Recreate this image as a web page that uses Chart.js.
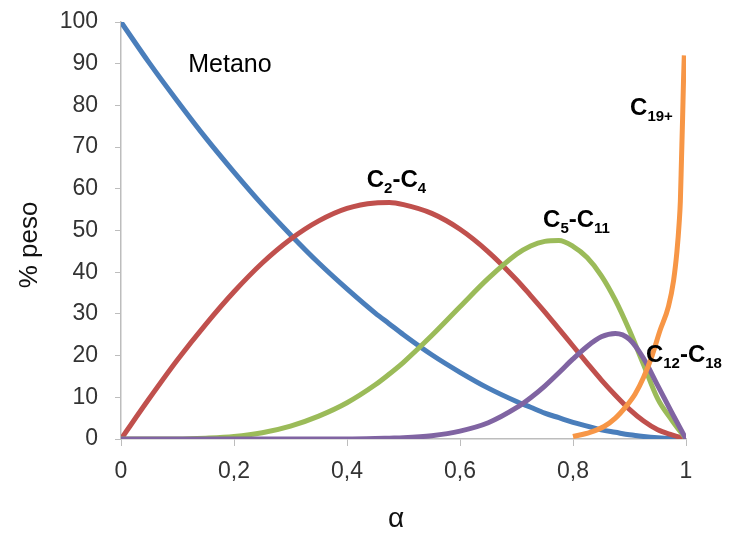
<!DOCTYPE html>
<html>
<head>
<meta charset="utf-8">
<title>% peso vs alfa</title>
<script src="https://cdn.jsdelivr.net/npm/chart.js@4.4.1/dist/chart.umd.min.js"></script>
<style>
    html, body { margin: 0; padding: 0; background: #fff; }
    #chart { display: block; }
</style>
</head>
<body>
<canvas id="chart" width="731" height="534"></canvas>
<script>
// Values
const alpha = [0, 0.05, 0.1, 0.15, 0.2, 0.25, 0.3, 0.35, 0.4, 0.45, 0.475, 0.5, 0.55, 0.6, 0.65, 0.7, 0.725, 0.75, 0.775, 0.8, 0.825, 0.85, 0.875, 0.9, 0.925, 0.95, 0.975, 1];
const metano = [100, 90.2, 81, 72.2, 64, 56.2, 49, 42.2, 36, 30.2, 27.6, 25, 20.2, 16, 12.2, 9, 7.6, 6.2, 5.1, 4, 3.1, 2.2, 1.6, 1, 0.6, 0.3, 0.1, 0];
const c2c4 = [0, 9.7, 19, 27.5, 35.3, 42.2, 47.9, 52.3, 55.3, 56.6, 56.7, 56.2, 54.1, 50.3, 44.9, 38.2, 34.4, 30.5, 26.4, 22.3, 18.2, 14.2, 10.5, 7.1, 4.3, 2.2, 1.0, 0];
const c5c11 = [0, 0, 0, 0.2, 0.6, 1.5, 3.1, 5.5, 8.7, 13, 15.6, 18.4, 24.8, 31.7, 38.5, 44.3, 46.3, 47.4, 47.6, 46.2, 43.5, 39.2, 33.3, 26, 17.8, 9.6, 4.5, 0];
const c12c18 = [0, 0, 0, 0, 0, 0, 0, 0, 0, 0.1, 0.2, 0.3, 0.8, 1.9, 3.9, 7.5, 9.9, 12.7, 15.9, 19.2, 22.2, 24.5, 25.3, 23.9, 19.3, 12.8, 6.3, 0];
const c19Alpha = [0.8, 0.83, 0.855, 0.875, 0.895, 0.91, 0.925, 0.94, 0.954, 0.969, 0.978, 0.984, 0.988, 0.99, 0.992, 0.994, 0.9956, 0.997];
const c19plus = [0.6, 1.6, 3, 5, 8, 10.8, 14.8, 20, 26, 31.8, 38, 45, 52, 57, 67, 77, 86, 92];

const xTicks = [0, 0.2, 0.4, 0.6, 0.8, 1];
const yTicks = [0, 10, 20, 30, 40, 50, 60, 70, 80, 90, 100];

((document) => {
    'use strict';

    const tickFont = { family: '"Liberation Sans", Arial, sans-serif', size: 23 };
    const axisColor = '#bdbdbd';

    // Build {x, y} points from two arrays
    function toPoints(xs, ys) {
        return xs.map((x, i) => ({ x: x, y: ys[i] }));
    }

    function series(label, xs, ys, color, order) {
        return {
            label: label,
            data: toPoints(xs, ys),
            borderColor: color,
            backgroundColor: color,
            borderWidth: 5,
            pointRadius: 0,
            fill: false,
            cubicInterpolationMode: 'monotone',
            order: order
        };
    }

    // Curve labels, placed in data coordinates (left, baseline)
    const curveLabels = [
        { x: 0.119, y: 88, parts: [['Metano', 'n']] },
        { x: 0.435, y: 60.4, parts: [['C', 'b'], ['2', 's'], ['-C', 'b'], ['4', 's']] },
        { x: 0.747, y: 50.8, parts: [['C', 'b'], ['5', 's'], ['-C', 'b'], ['11', 's']] },
        { x: 0.901, y: 77.7, parts: [['C', 'b'], ['19+', 's']] },
        { x: 0.929, y: 18.5, parts: [['C', 'b'], ['12', 's'], ['-C', 'b'], ['18', 's']] }
    ];

    const labelFonts = {
        n: '25px "Liberation Sans", Arial, sans-serif',
        b: 'bold 24px "Liberation Sans", Arial, sans-serif',
        s: 'bold 15px "Liberation Sans", Arial, sans-serif'
    };

    const annotations = {
        id: 'annotations',
        afterDraw(chart) {
            const ctx = chart.ctx;
            const xs = chart.scales.x;
            const ys = chart.scales.y;
            ctx.save();
            ctx.fillStyle = '#000';
            ctx.textBaseline = 'alphabetic';
            ctx.textAlign = 'left';
            curveLabels.forEach((lbl) => {
                let px = xs.getPixelForValue(lbl.x);
                let py = ys.getPixelForValue(lbl.y);
                lbl.parts.forEach(([text, kind]) => {
                    ctx.font = labelFonts[kind];
                    ctx.fillText(text, px, kind === 's' ? py + 6 : py);
                    px += ctx.measureText(text).width;
                });
            });

            // Axis titles
            ctx.fillStyle = '#111';
            ctx.font = '28px "Liberation Sans", Arial, sans-serif';
            ctx.textAlign = 'center';
            ctx.fillText('α', 396, 527);

            ctx.font = '26px "Liberation Sans", Arial, sans-serif';
            ctx.translate(37, 245);
            ctx.rotate(-Math.PI / 2);
            ctx.fillText('% peso', 0, 0);
            ctx.restore();
        }
    };

    const config = {
        type: 'line',
        data: {
            datasets: [
                series('Metano', alpha, metano, '#4a7ebb', 5),
                series('C2-C4', alpha, c2c4, '#c0504d', 4),
                series('C5-C11', alpha, c5c11, '#9bbb59', 3),
                series('C12-C18', alpha, c12c18, '#8064a2', 2),
                series('C19+', c19Alpha, c19plus, '#f79646', 1)
            ]
        },
        options: {
            responsive: false,
            animation: false,
            layout: {
                padding: { left: 0, top: 22, right: 45, bottom: 0 }
            },
            plugins: {
                legend: { display: false },
                tooltip: { enabled: false }
            },
            scales: {
                x: {
                    type: 'linear',
                    min: 0,
                    max: 1,
                    afterFit: (scale) => {
                        scale.height = 95;
                        scale.paddingLeft = 0;
                        scale.paddingRight = 0;
                    },
                    afterBuildTicks: (scale) => {
                        scale.ticks = xTicks.map((v) => ({ value: v }));
                    },
                    ticks: {
                        font: tickFont,
                        color: '#333',
                        padding: 12,
                        maxRotation: 0,
                        callback: (value) => String(value).replace('.', ',')
                    },
                    grid: {
                        drawOnChartArea: false,
                        drawTicks: true,
                        tickLength: 7,
                        tickColor: axisColor
                    },
                    border: { display: true, color: axisColor, width: 1.5 }
                },
                y: {
                    min: 0,
                    max: 100,
                    afterFit: (scale) => {
                        scale.width = 121;
                        scale.paddingTop = 0;
                        scale.paddingBottom = 0;
                    },
                    afterBuildTicks: (scale) => {
                        scale.ticks = yTicks.map((v) => ({ value: v }));
                    },
                    ticks: {
                        font: tickFont,
                        color: '#333',
                        padding: 17
                    },
                    grid: {
                        drawOnChartArea: false,
                        drawTicks: true,
                        tickLength: 6,
                        tickColor: axisColor
                    },
                    border: { display: true, color: axisColor, width: 1.5 }
                }
            }
        },
        plugins: [annotations]
    };

    // Draw Chart
    new Chart(document.getElementById('chart'), config);
})(document);
</script>
</body>
</html>
